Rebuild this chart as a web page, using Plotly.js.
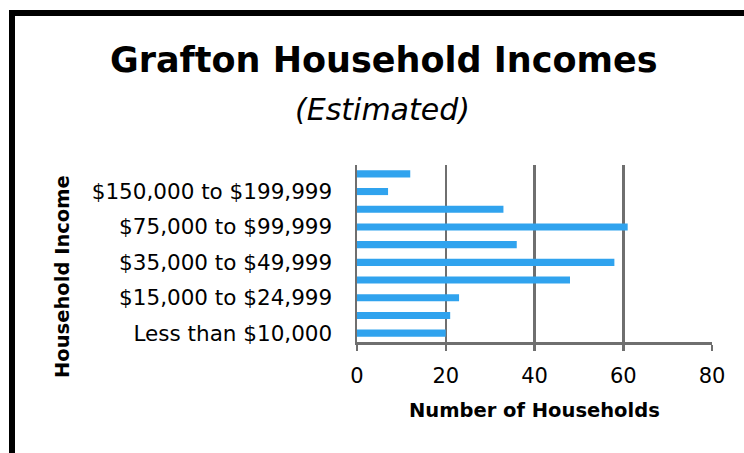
<!DOCTYPE html>
<html><head><meta charset="utf-8">
<script src="https://cdn.plot.ly/plotly-3.0.1.min.js"></script>
<style>html,body{margin:0;padding:0;background:#fff;}#chart{width:744px;height:453px;}</style>
</head><body><div id="chart"></div>
<script>
const categories = [
  "Less than $10,000",
  "$10,000 to $14,999",
  "$15,000 to $24,999",
  "$25,000 to $34,999",
  "$35,000 to $49,999",
  "$50,000 to $74,999",
  "$75,000 to $99,999",
  "$100,000 to $149,999",
  "$150,000 to $199,999",
  "$200,000 or more"
];
const households = [20, 21, 23, 48, 58, 36, 61, 33, 7, 12];
const shownLabels = ["Less than $10,000", "$15,000 to $24,999", "$35,000 to $49,999", "$75,000 to $99,999", "$150,000 to $199,999"];
const xTicks = [0, 20, 40, 60, 80];

const FONT = "'DejaVu Sans', sans-serif";
const L = 357, R = 32, T = 165, B = 111, W = 744, H = 453;
const pw = W - L - R, ph = H - T - B;
const px = v => (v - L) / pw;
const py = v => (H - B - v) / ph;

const trace = {
  type: 'bar', orientation: 'h',
  y: categories, x: households,
  marker: {color: '#30A3EE'},
  hoverinfo: 'x+y'
};

const layout = {
  width: W, height: H,
  margin: {l: L, r: R, t: T, b: B, pad: 0},
  paper_bgcolor: '#ffffff', plot_bgcolor: '#ffffff',
  showlegend: false,
  bargap: 0.6,
  font: {family: FONT, color: '#000'},
  xaxis: {
    range: [0, 80], tickvals: xTicks, ticktext: xTicks.map(String),
    showgrid: true, gridcolor: '#6f6f6f', gridwidth: 2.5,
    showline: true, linecolor: '#6f6f6f', linewidth: 2.5,
    zeroline: false,
    ticks: 'outside', ticklen: 6, tickwidth: 2.5, tickcolor: '#6f6f6f',
    ticklabelstandoff: 7,
    tickfont: {family: FONT, size: 21, color: '#000'},
    fixedrange: true
  },
  yaxis: {
    type: 'category', categoryorder: 'array', categoryarray: categories,
    range: [-0.5, 9.5],
    tickvals: shownLabels, ticktext: shownLabels,
    showgrid: false, zeroline: false,
    showline: true, linecolor: '#6f6f6f', linewidth: 2.5,
    ticks: '', ticklabelstandoff: 18,
    tickfont: {family: FONT, size: 21.5, color: '#000'},
    fixedrange: true
  },
  annotations: [
    {text: '<b>Grafton Household Incomes</b>', xref: 'paper', yref: 'paper',
     x: px(384), y: py(60), xanchor: 'center', yanchor: 'middle', showarrow: false,
     font: {family: FONT, size: 35, color: '#000'}},
    {text: '<i>(Estimated)</i>', xref: 'paper', yref: 'paper',
     x: px(382), y: py(109), xanchor: 'center', yanchor: 'middle', showarrow: false,
     font: {family: FONT, size: 30, color: '#000'}},
    {text: '<b>Number of Households</b>', xref: 'paper', yref: 'paper',
     x: px(534), y: py(410), xanchor: 'center', yanchor: 'middle', showarrow: false,
     font: {family: FONT, size: 19.5, color: '#000'}},
    {text: '<b>Household Income</b>', xref: 'paper', yref: 'paper',
     x: px(62), y: py(277), xanchor: 'center', yanchor: 'middle', showarrow: false,
     textangle: -90, font: {family: FONT, size: 19.5, color: '#000'}}
  ],
  shapes: [
    {type: 'rect', xref: 'paper', yref: 'paper', layer: 'above',
     x0: px(12), x1: px(800), y0: py(520), y1: py(13),
     line: {color: '#000', width: 6}, fillcolor: 'rgba(0,0,0,0)'}
  ]
};

Plotly.newPlot('chart', [trace], layout, {displayModeBar: false, staticPlot: true});
</script></body></html>
